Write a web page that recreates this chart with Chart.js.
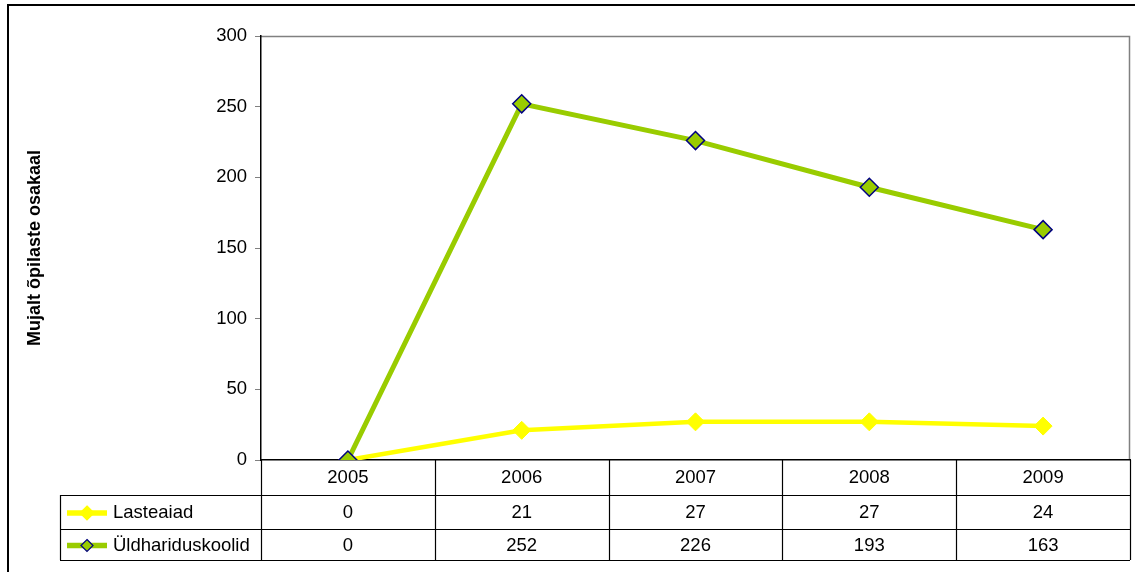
<!DOCTYPE html>
<html>
<head>
<meta charset="utf-8">
<script src="https://cdn.jsdelivr.net/npm/chart.js@4/dist/chart.umd.min.js"></script>
<style>
  html, body { margin: 0; padding: 0; background: #fff; }
  #wrap { width: 1135px; height: 572px; position: relative; }
</style>
</head>
<body>
<div id="wrap"><canvas id="ChartCanvas" width="1135" height="572"></canvas></div>
<script>
// Data
const years = ["2005", "2006", "2007", "2008", "2009"];
const lasteaiad = [0, 21, 27, 27, 24];
const yldhariduskoolid = [0, 252, 226, 193, 163];
const seriesNames = ["Lasteaiad", "Üldhariduskoolid"];
const yTicks = [0, 50, 100, 150, 200, 250, 300];

const FONT = "'Liberation Sans', Arial, sans-serif";
const FONT_SIZE = 18.5;
const YELLOW = "#ffff00";
const GREEN = "#99cc00";
const NAVY = "#000080";

// outer frame + plot border (behind datasets)
const framePlugin = {
    id: "frame",
    beforeDraw(chart) {
        const ctx = chart.ctx;
        const ca = chart.chartArea;
        ctx.save();
        ctx.fillStyle = "#fff";
        ctx.fillRect(0, 0, chart.width, chart.height);

        ctx.strokeStyle = "#000";
        ctx.lineWidth = 2;
        ctx.beginPath();
        ctx.moveTo(8, chart.height);
        ctx.lineTo(8, 5);
        ctx.lineTo(chart.width, 5);
        ctx.stroke();

        ctx.strokeStyle = "#808080";
        ctx.lineWidth = 1.5;
        ctx.beginPath();
        ctx.moveTo(ca.left, ca.top + 0.5);
        ctx.lineTo(ca.right - 0.5, ca.top + 0.5);
        ctx.lineTo(ca.right - 0.5, ca.bottom);
        ctx.stroke();
        ctx.restore();
    }
};

// data table under the x axis
const tablePlugin = {
    id: "dataTable",
    afterDraw(chart) {
        const ctx = chart.ctx;
        const ca = chart.chartArea;
        const xs = chart.scales.x;
        const step = (ca.right - ca.left) / years.length;
        const rowTops = [ca.bottom, 495, 529, 560];
        const legendLeft = 60;

        ctx.save();
        ctx.strokeStyle = "#000";
        ctx.lineWidth = 1.2;

        // column lines
        for (let i = 0; i <= years.length; i++) {
            const x = Math.round(ca.left + i * step) + 0.5;
            ctx.beginPath();
            ctx.moveTo(x, ca.bottom);
            ctx.lineTo(x, rowTops[3]);
            ctx.stroke();
        }
        // row lines
        [1, 2, 3].forEach(r => {
            ctx.beginPath();
            ctx.moveTo(legendLeft, rowTops[r] + 0.5);
            ctx.lineTo(ca.right, rowTops[r] + 0.5);
            ctx.stroke();
        });
        ctx.beginPath();
        ctx.moveTo(legendLeft + 0.5, rowTops[1]);
        ctx.lineTo(legendLeft + 0.5, rowTops[3]);
        ctx.stroke();

        // values
        ctx.fillStyle = "#000";
        ctx.font = FONT_SIZE + "px " + FONT;
        ctx.textAlign = "center";
        ctx.textBaseline = "middle";
        const rows = [lasteaiad, yldhariduskoolid];
        rows.forEach((vals, r) => {
            const cy = (rowTops[r + 1] + rowTops[r + 2]) / 2 + 1;
            vals.forEach((v, i) => {
                ctx.fillText(String(v), xs.getPixelForValue(i), cy);
            });
        });

        // legend keys
        const keys = [
            { color: YELLOW, border: YELLOW, width: 5.5, r: 7 },
            { color: GREEN, border: NAVY, width: 5.5, r: 6 }
        ];
        keys.forEach((k, r) => {
            const cy = (rowTops[r + 1] + rowTops[r + 2]) / 2 + 1;
            ctx.strokeStyle = k.color;
            ctx.lineWidth = k.width;
            ctx.beginPath();
            ctx.moveTo(67, cy);
            ctx.lineTo(107, cy);
            ctx.stroke();
            ctx.beginPath();
            ctx.moveTo(87, cy - k.r);
            ctx.lineTo(87 + k.r, cy);
            ctx.lineTo(87, cy + k.r);
            ctx.lineTo(87 - k.r, cy);
            ctx.closePath();
            ctx.fillStyle = k.color;
            ctx.fill();
            ctx.strokeStyle = k.border;
            ctx.lineWidth = 1.2;
            ctx.stroke();

            ctx.fillStyle = "#000";
            ctx.textAlign = "left";
            ctx.fillText(seriesNames[r], 113, cy);
        });
        ctx.restore();
    }
};

new Chart(document.getElementById("ChartCanvas").getContext("2d"), {
    type: "line",
    data: {
        labels: years,
        datasets: [{
            label: seriesNames[0],
            data: lasteaiad,
            borderColor: YELLOW,
            backgroundColor: YELLOW,
            borderWidth: 4.5,
            pointStyle: "rectRot",
            pointRadius: 9,
            pointBorderColor: YELLOW,
            pointBackgroundColor: YELLOW,
            pointBorderWidth: 1,
            tension: 0,
            order: 1
        }, {
            label: seriesNames[1],
            data: yldhariduskoolid,
            borderColor: GREEN,
            backgroundColor: GREEN,
            borderWidth: 5,
            pointStyle: "rectRot",
            pointRadius: 9,
            pointBorderColor: NAVY,
            pointBackgroundColor: GREEN,
            pointBorderWidth: 1.5,
            tension: 0,
            order: 0
        }]
    },
    options: {
        responsive: false,
        animation: false,
        layout: { autoPadding: false, padding: { top: 36, right: 5, left: 0, bottom: 0 } },
        plugins: {
            legend: { display: false },
            tooltip: { enabled: false }
        },
        scales: {
            x: {
                offset: true,
                grid: { display: false, drawTicks: false },
                border: { display: true, color: "#000", width: 1.5 },
                ticks: {
                    color: "#000",
                    font: { family: FONT, size: FONT_SIZE },
                    padding: 7,
                    maxRotation: 0
                },
                afterFit(scale) {
                    scale.height = 112;
                    scale.paddingLeft = 0;
                    scale.paddingRight = 0;
                }
            },
            y: {
                min: 0,
                max: 300,
                afterBuildTicks(scale) { scale.ticks = yTicks.map(v => ({ value: v })); },
                grid: { drawOnChartArea: false, drawTicks: true, tickLength: 6, color: "#808080" },
                border: { display: true, color: "#000", width: 1.5 },
                ticks: {
                    color: "#000",
                    font: { family: FONT, size: FONT_SIZE },
                    padding: 8
                },
                title: {
                    display: true,
                    text: "Mujalt õpilaste osakaal",
                    color: "#000",
                    font: { family: FONT, size: 18, weight: "bold" },
                    padding: { top: 24, bottom: 0 }
                },
                afterFit(scale) { scale.width = 261; }
            }
        }
    },
    plugins: [framePlugin, tablePlugin]
});
</script>
</body>
</html>
